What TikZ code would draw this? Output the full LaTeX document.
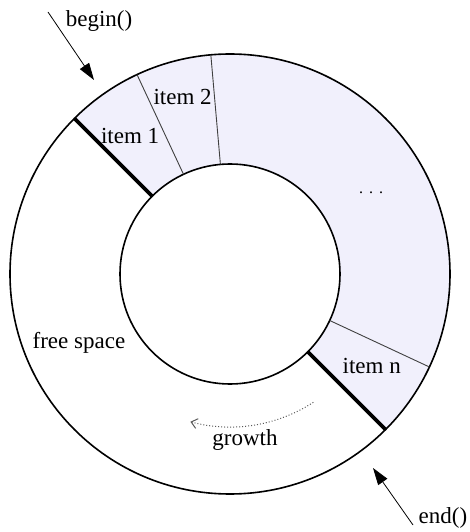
\documentclass[tikz,border=0pt]{standalone}
\usepackage{fontspec}
\setmainfont{Liberation Serif}
\usetikzlibrary{arrows.meta}
\definecolor{usedfill}{RGB}{241,240,252}
\tikzset{
  ring/.style={
    draw,
    line width=1.6pt
  },
  divider/.style={
    draw=black!75,
    line width=0.9pt
  },
  bound/.style={
    draw,
    line width=3.6pt
  },
  pointer/.style={
    -{Triangle[length=17pt,width=11pt]},
    line width=0.8pt
  },
  growline/.style={
    -{Straight Barb[length=6pt,width=10pt]},
    dotted,
    line width=1pt,
    draw=black!65
  },
  lbl/.style={
    font=\fontsize{23}{27}\selectfont,
    inner sep=0pt
  }
}

\begin{document}
\begin{tikzpicture}[x=1pt, y=1pt]
  \useasboundingbox (-230,-258) rectangle (240,274);
  % used part of the buffer
  \fill[usedfill] (-45:110) -- (-45:220) arc[start angle=-45, end angle=135, radius=220]
    -- (135:110) arc[start angle=135, end angle=-45, radius=110] -- cycle;
  \draw[ring] (0,0) circle[radius=220];
  \draw[ring] (0,0) circle[radius=110];
  \draw[divider] (115:110) -- (115:220);
  \draw[divider] (95:110) -- (95:220);
  \draw[divider] (-25:110) -- (-25:220);
  \draw[bound] (135:110) -- (135:220);
  \draw[bound] (-45:110) -- (-45:220);

  \node[lbl] (item1) at (126:170) {item 1};
  \node[lbl] (item2) at (105:183) {item 2};
  \node[lbl, font=\fontsize{16}{20}\selectfont] (dots) at (30:163) {.\hspace{6pt}.\hspace{6pt}.};
  \node[lbl] (itemn) at (-33:169) {item n};
  \node[lbl] (free) at (204.5:166) {free space};
  \node[lbl] (growth) at (15,-166) {growth};

  % iterators
  \coordinate (begintail) at (-182,262);
  \coordinate (begintip) at (-136,194);
  \node[lbl] (beginlbl) at (-131,253) {begin()};
  \draw[pointer] (begintail) -- (begintip);
  \coordinate (endtail) at (183,-251);
  \coordinate (endtip) at (143,-194);
  \node[lbl] (endlbl) at (213,-244) {end()};
  \draw[pointer] (endtail) -- (endtip);

  \coordinate (growstart) at (-57:153);
  \draw[growline] (growstart) arc[start angle=-57, end angle=-105, radius=153];
\end{tikzpicture}
\end{document}
